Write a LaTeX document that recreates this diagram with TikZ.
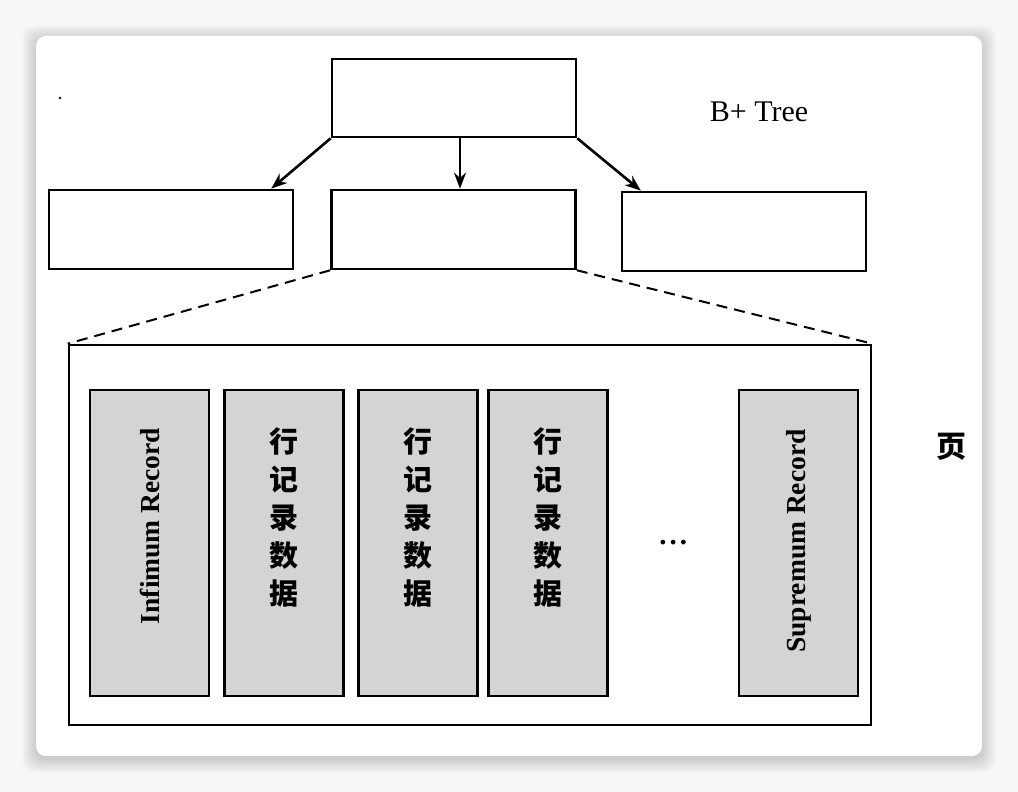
\documentclass[tikz,border=0pt]{standalone}
\usepackage{fontspec}
\setmainfont{Liberation Serif}
\newfontfamily\cjk{Noto Sans CJK SC}
\usetikzlibrary{
  arrows.meta,
  positioning,
  matrix
}

\begin{document}
\begin{tikzpicture}[
      treenode/.style={
         rectangle,
         minimum width=244pt,
         minimum height=79pt,
         draw=black
      },
      record/.style={
         rectangle,
         minimum width=119pt,
         minimum height=306pt,
         draw=black,
         fill=black!17
      },
      rowtext/.style={
         font=\cjk\bfseries\fontsize{29}{38}\selectfont,
         align=center
      },
      edgetext/.style={
         rotate=90,
         font=\bfseries\fontsize{27.5}{30}\selectfont
      },
      zoomline/.style={line width=2pt, dash pattern=on 11pt off 7pt},
      >={Stealth[length=16pt,width=12pt]},line width=2.6pt
    ]
    \useasboundingbox (0,0) rectangle (1018pt,792pt);
    % card and its shadow
    \fill[black!3] (0,0) rectangle (1018pt,792pt);
    \foreach \s in {1,...,14}
       \fill[black, opacity=0.012, rounded corners=12pt]
          ({(36-\s)*1pt},{(33-\s)*1pt}) rectangle ({(982+\s)*1pt},{(753+\s)*1pt});
    \fill[white, rounded corners=10pt] (36pt,36pt) rectangle (982pt,756pt);
    \fill (60pt,694pt) circle (1.3pt);
    % tree
    \node (root) [treenode, minimum height=78pt] at (454pt,694pt) {};
    \node (leaf2) [treenode] at (453.5pt,562.5pt) {};
    \node (leaf1) [treenode, left=36pt of leaf2] {};
    \node (leaf3) [treenode, right=44pt of leaf2, yshift=-2pt] {};
    \node (btree) at (759pt,680pt) {\fontsize{30}{32}\selectfont B+ Tree};
    \draw[->] (root.south west) -- ([xshift=-23pt]leaf1.north east);
    \draw[->] ([xshift=6pt]root.south) -- ([xshift=6.5pt]leaf2.north);
    \draw[->] (root.south east) -- ([xshift=20pt]leaf3.north west);
    % page
    \node (page) [rectangle, draw, minimum width=802pt, minimum height=380pt] at (470pt,257pt) {};
    \draw[zoomline] (leaf2.south west) -- (page.north west);
    \draw[zoomline] (leaf2.south east) -- (page.north east);
    \node (pagelabel) at (951pt,345pt) {\cjk\bfseries\fontsize{30}{32}\selectfont 页};
    \matrix (recs) [column sep=12.5pt, inner sep=0pt, anchor=west] at (87.5pt,249pt) {
       \node (r1) [record] {}; & \node (r2) [record] {}; & \node (r3) [record] {}; &[-4pt]
       \node (r4) [record] {}; & \node (dots) [minimum width=104pt] {\bfseries\fontsize{29}{30}\selectfont.\hspace{3pt}.\hspace{3pt}.}; &
       \node (r5) [record] {}; \\
    };
    \node (inftext) [edgetext] at ([yshift=17pt]r1.center) {Infimum Record};
    \foreach \r in {r2,r3,r4}
       \node (\r text) [rowtext] at ([yshift=25pt]\r.center) {行\\记\\录\\数\\据};
    \node (suptext) [edgetext] at ([yshift=2pt]r5.center) {Supremum Record};
\end{tikzpicture}
\end{document}
